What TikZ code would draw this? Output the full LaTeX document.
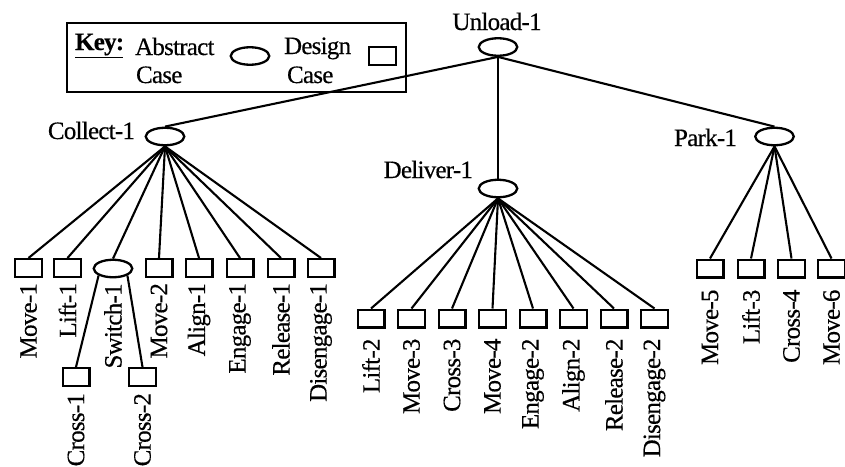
\documentclass[tikz,border=0pt]{standalone}
\usepackage{fontspec}
\setmainfont{Liberation Serif}[FakeBold=0.4,LetterSpace=-3]
\usetikzlibrary{positioning,shapes.geometric}
\tikzset{
  abscase/.style={draw,ellipse,line width=2.3pt,minimum width=38.5pt,minimum height=17.5pt,inner sep=0pt},
  descase/.style={draw,rectangle,line width=2.3pt,minimum width=26.7pt,minimum height=17.7pt,inner sep=0pt},
  lbl/.style={inner sep=0pt},
  leaflbl/.style={rotate=90,anchor=east,inner sep=0pt}
}
\begin{document}
\begin{tikzpicture}[x=1pt,y=-1pt,line width=2.1pt,font=\fontsize{25}{28}\selectfont]
\useasboundingbox (0,0) rectangle (845,466);
\clip (0,0) rectangle (845,466);
% key
\node[draw,line width=2.3pt,minimum width=338.5pt,minimum height=68.5pt,anchor=north west,inner sep=0pt] (key) at (66,22) {};
\node[lbl,anchor=base west] (keylbl) at (74,50) {\underline{\textbf{Key:}}};
\node[lbl,anchor=base west] (abstxt) at (134,55) {Abstract};
\node[lbl,anchor=base west] (abstxtb) at (135,83) {Case};
\node[abscase] (keyabs) at (250,56) {};
\node[lbl,anchor=base west] (destxt) at (283,54) {Design};
\node[lbl,anchor=base west] (destxtb) at (286,83) {Case};
\node[descase] (keydes) at (382.5,56) {};
% abstract cases
\node[abscase] (unload) at (498,47) {};
\node[lbl,anchor=base] (unloadlbl) at (497,30) {Unload-1};
\node[abscase] (collect) at (165,136.5) {};
\node[lbl,anchor=base east] (collectlbl) at (136,139) {Collect-1};
\node[abscase] (deliver) at (498,188.5) {};
\node[lbl,anchor=base east] (deliverlbl) at (474,178) {Deliver-1};
\node[abscase] (park) at (774.5,136.5) {};
\node[lbl,anchor=base east] (parklbl) at (738,146) {Park-1};
\draw (unload.south)--(collect.north);
\draw (unload.south)--(deliver.north);
\draw (unload.south)--(park.north);
% collect
\foreach \x/\n/\t in {28.5/mva/Move-1,67.5/lfa/Lift-1,159/mvb/Move-2,199/ala/Align-1,240/ena/Engage-1,281/rea/Release-1,321/dia/Disengage-1}{
  \node[descase] (\n) at (\x,268) {};
  \node[leaflbl] (\n lbl) at ([yshift=-4pt]\n.south) {\t};
  \draw (collect.south)--(\n.north);
}
\node[abscase] (switch) at (113,268.5) {};
\node[leaflbl] (switchlbl) at ([yshift=-4pt]switch.south) {Switch-1};
\draw (collect.south)--(switch.north);
\foreach \x/\n/\t/\a in {76/cra/Cross-1/south west,142.5/crb/Cross-2/south east}{
  \node[descase] (\n) at (\x,377) {};
  \node[leaflbl] (\n lbl) at ([yshift=-5pt]\n.south) {\t};
  \draw (switch.\a)--(\n.north);
}
% deliver
\foreach \x/\n/\t in {371/lfb/Lift-2,411.5/mvc/Move-3,452/crc/Cross-3,492.5/mvd/Move-4,533/enb/Engage-2,573.5/alb/Align-2,614/reb/Release-2,654.5/dib/Disengage-2}{
  \node[descase] (\n) at (\x,318.5) {};
  \node[leaflbl] (\n lbl) at ([yshift=-9pt]\n.south) {\t};
  \draw (deliver.south)--(\n.north);
}
% park
\foreach \x/\n/\t in {710/mve/Move-5,751/lfc/Lift-3,791.5/crd/Cross-4,831.5/mvf/Move-6}{
  \node[descase] (\n) at (\x,268.5) {};
  \node[leaflbl] (\n lbl) at ([yshift=-10pt]\n.south) {\t};
  \draw (park.south)--(\n.north);
}
\end{tikzpicture}
\end{document}
